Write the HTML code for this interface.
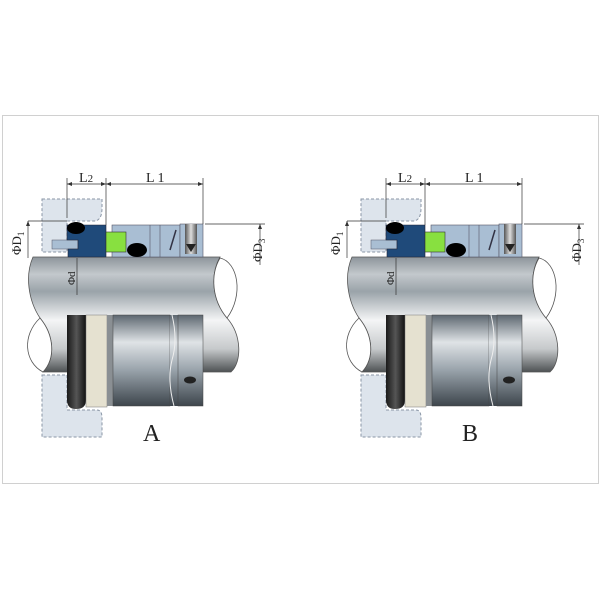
<!DOCTYPE html>
<html><head><meta charset="utf-8"><style>
html,body{margin:0;padding:0;background:#fff;width:600px;height:600px;overflow:hidden}
svg{display:block}
</style></head><body>
<svg width="600" height="600" viewBox="0 0 600 600" xmlns="http://www.w3.org/2000/svg">
<defs>
<linearGradient id="shaft" x1="0" y1="0" x2="0" y2="1">
<stop offset="0" stop-color="#8d959b"/><stop offset="0.15" stop-color="#c3c8cc"/>
<stop offset="0.3" stop-color="#9aa3a9"/><stop offset="0.55" stop-color="#f4f5f6"/>
<stop offset="0.8" stop-color="#c6c9cb"/><stop offset="1" stop-color="#4e5254"/>
</linearGradient>
<linearGradient id="cyl" x1="0" y1="0" x2="0" y2="1">
<stop offset="0" stop-color="#5d6770"/><stop offset="0.3" stop-color="#dfe3e6"/>
<stop offset="0.6" stop-color="#9aa4ac"/><stop offset="1" stop-color="#3d454c"/>
</linearGradient>
<linearGradient id="blk" x1="0" y1="0" x2="1" y2="0">
<stop offset="0" stop-color="#1a1a1a"/><stop offset="0.5" stop-color="#555"/><stop offset="1" stop-color="#111"/>
</linearGradient>
<linearGradient id="spr" x1="0" y1="0" x2="1" y2="0">
<stop offset="0" stop-color="#555"/><stop offset="0.5" stop-color="#ddd"/><stop offset="1" stop-color="#555"/>
</linearGradient>
<g id="seal">
<!-- housings -->
<path d="M42 199 H102 V208 Q102 220 95 221 H67 V252 H42 Z" fill="#dde4ec" stroke="#8a96a6" stroke-dasharray="3,2" stroke-width="1"/>
<path d="M42 375 H67 V410 H97 Q102 410 102 418 V437 H42 Z" fill="#dde4ec" stroke="#8a96a6" stroke-dasharray="3,2" stroke-width="1"/>
<!-- shaft -->
<path d="M33 257 H220 C210 275 212 300 227 318 C242 335 242 362 231 372 H43 C56 358 54 335 40 318 C28 300 25 275 33 257 Z" fill="url(#shaft)" stroke="#555" stroke-width="0.8"/>
<path d="M220 258 C238 262 244 295 227 318 C212 300 210 275 220 258 Z" fill="#fff" stroke="#555" stroke-width="0.8"/>
<path d="M40 318 C22 335 24 362 43 372 C56 358 54 335 40 318 Z" fill="#fff" stroke="#555" stroke-width="0.8"/>
<!-- upper section -->
<rect x="52" y="240" width="26" height="9" fill="#a9bed3" stroke="#556" stroke-width="0.5"/>
<path d="M67 225 H106 V257 H68 V249 H78 V240 H67 Z" fill="#1f4a7a" stroke="#223" stroke-width="0.6"/>
<ellipse cx="76" cy="228" rx="9" ry="6" fill="#000"/>
<rect x="112" y="225" width="68" height="32" fill="#a9bed3" stroke="#556" stroke-width="0.6"/>
<line x1="150" y1="225" x2="150" y2="257" stroke="#556" stroke-width="0.6"/>
<line x1="160" y1="225" x2="160" y2="257" stroke="#556" stroke-width="0.6"/>
<path d="M170 250 L176 230" stroke="#334" stroke-width="1.5"/>
<rect x="106" y="232" width="20" height="20" fill="#88e040" stroke="#333" stroke-width="0.6"/>
<ellipse cx="137" cy="250" rx="10" ry="7" fill="#000"/>
<rect x="180" y="224" width="23" height="33" fill="#a9bed3" stroke="#556" stroke-width="0.6"/>
<rect x="185" y="224" width="12" height="30" fill="url(#spr)"/>
<path d="M186 244 L191 252 L196 244" fill="#222"/>
<!-- lower section -->
<path d="M67 315 H86 V400 Q86 409 76 409 Q67 409 67 400 Z" fill="url(#blk)"/>
<rect x="86" y="315" width="21" height="92" fill="#e5e1d0" stroke="#777" stroke-width="0.5"/>
<rect x="107" y="315" width="6" height="91" fill="#8a8f93"/>
<rect x="113" y="315" width="57" height="91" fill="url(#cyl)" stroke="#444" stroke-width="0.5"/>
<rect x="170" y="315" width="8" height="91" fill="url(#cyl)"/>
<path d="M172 315 Q178 340 172 360 Q167 380 174 406" stroke="#eee" fill="none" stroke-width="1"/>
<rect x="178" y="315" width="25" height="91" fill="url(#cyl)" stroke="#444" stroke-width="0.5"/>
<ellipse cx="190" cy="380" rx="6" ry="3.5" fill="#222"/>
<!-- dimensions -->
<g stroke="#333" stroke-width="0.7" fill="none">
<line x1="67" y1="178" x2="67" y2="218"/><line x1="106" y1="178" x2="106" y2="225"/><line x1="203" y1="178" x2="203" y2="224"/>
<line x1="67" y1="184" x2="203" y2="184"/>
<line x1="28" y1="221" x2="67" y2="221"/><line x1="28" y1="221" x2="28" y2="258"/>
<line x1="205" y1="224" x2="265" y2="224"/><line x1="260" y1="224" x2="260" y2="265"/>
<line x1="77" y1="258" x2="77" y2="295"/>
</g>
<g fill="#333">
<path d="M67 184 l5 -2 v4 Z"/><path d="M106 184 l-5 -2 v4 Z"/><path d="M106 184 l5 -2 v4 Z"/><path d="M203 184 l-5 -2 v4 Z"/>
<path d="M28 221 l-2 5 h4 Z"/><path d="M260 224 l-2 5 h4 Z"/>
</g>
<g font-family="Liberation Serif, serif" fill="#222">
<text x="79" y="182" font-size="14">L<tspan font-size="11">2</tspan></text>
<text x="146" y="182" font-size="14">L 1</text>
<text transform="translate(21,255) rotate(-90)" font-size="13">ΦD<tspan font-size="9" dy="3">1</tspan></text>
<text transform="translate(262,262) rotate(-90)" font-size="13">ΦD<tspan font-size="9" dy="3">3</tspan></text>
<text transform="translate(75,285) rotate(-90)" font-size="11">Φd</text>
</g>
</g>
</defs>
<rect x="2.5" y="115.5" width="596" height="368" fill="none" stroke="#d0d0d0" stroke-width="1"/>
<use href="#seal"/>
<use href="#seal" transform="translate(319,0)"/>
<text x="143" y="441" font-family="Liberation Serif, serif" font-size="24" fill="#222">A</text>
<text x="462" y="441" font-family="Liberation Serif, serif" font-size="24" fill="#222">B</text>
</svg>
</body></html>
